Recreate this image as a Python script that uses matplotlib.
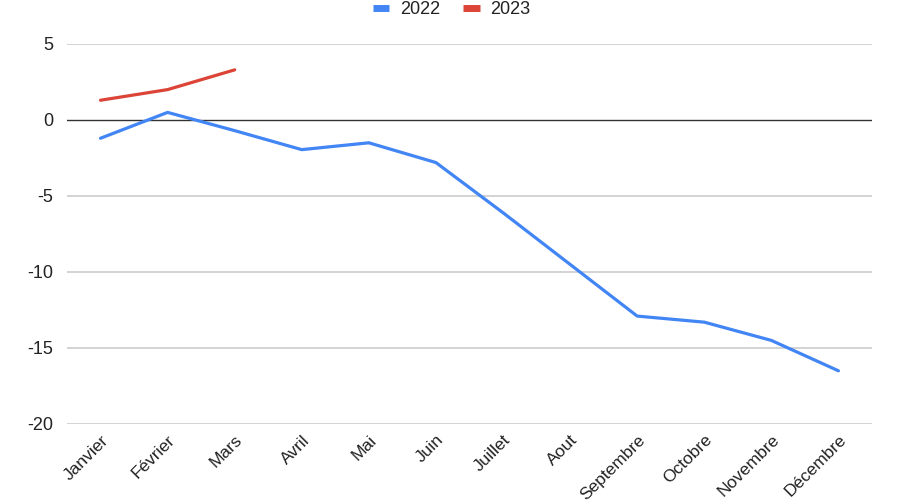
import matplotlib.pyplot as plt

plt.rcParams['font.family'] = ['Liberation Sans', 'DejaVu Sans']

months = ['Janvier', 'Février', 'Mars', 'Avril', 'Mai', 'Juin', 'Juillet',
          'Aout', 'Septembre', 'Octobre', 'Novembre', 'Décembre']
v2022 = [-1.2, 0.5, -0.7, -1.95, -1.5, -2.8, -6.1, -9.5, -12.9, -13.3, -14.5, -16.5]
v2023 = [1.3, 2.0, 3.3]
yticks = [5, 0, -5, -10, -15, -20]

fig = plt.figure(figsize=(8.98, 5.0), dpi=100)
ax = fig.add_axes([0.0746, 0.152, 0.8964, 0.76])

for y in yticks:
    if y == 0:
        continue
    ax.axhline(y, color='#cccccc', linewidth=1.2, zorder=0)
ax.axhline(0, color='#333333', linewidth=1.0, zorder=1)

ax.plot(range(len(v2022)), v2022, color='#4285F4', linewidth=2.3,
        solid_capstyle='round', solid_joinstyle='round', label='2022', zorder=3)
ax.plot(range(len(v2023)), v2023, color='#DB4437', linewidth=2.3,
        solid_capstyle='round', solid_joinstyle='round', label='2023', zorder=3)

ax.set_xlim(-0.5, 11.5)
ax.set_ylim(-20, 5)
ax.set_yticks(yticks)
ax.set_yticklabels([str(y) for y in yticks], fontsize=13, color='#222222')
ax.set_xticks(range(len(months)))
ax.set_xticklabels(months, rotation=45, ha='right', rotation_mode='anchor',
                   fontsize=12.5, color='#222222')
ax.tick_params(length=0, axis='both')
ax.tick_params(axis='y', pad=10)
ax.tick_params(axis='x', pad=6)
for s in ax.spines.values():
    s.set_visible(False)

leg = fig.legend(loc='upper center', bbox_to_anchor=(0.503, 1.03), ncol=2,
                 frameon=False, fontsize=13, handlelength=0.9, columnspacing=1.3,
                 handletextpad=0.6)
for line in leg.get_lines():
    line.set_linewidth(5)
    line.set_solid_capstyle('butt')
for t in leg.get_texts():
    t.set_color('#222222')

plt.savefig('out.png', dpi=100)
